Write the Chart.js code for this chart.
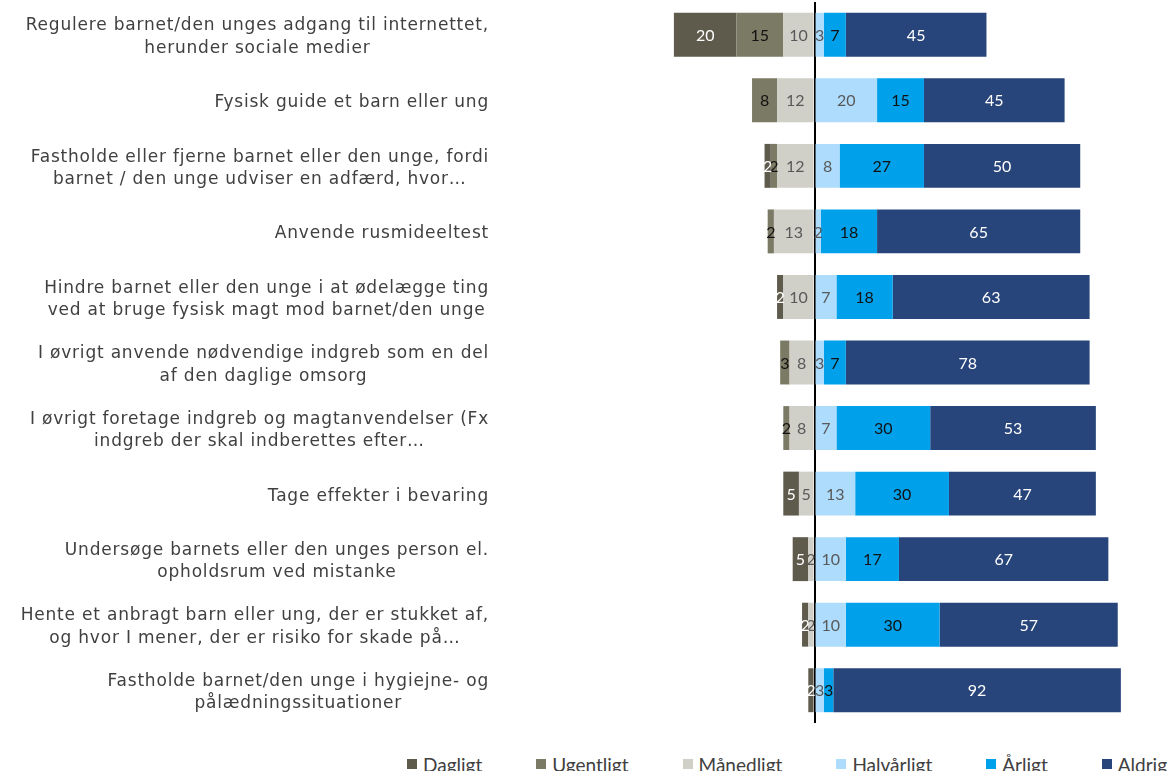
<!DOCTYPE html>
<html>
<head>
<meta charset="utf-8">
<script src="https://cdn.jsdelivr.net/npm/chart.js@4.4.1/dist/chart.umd.min.js"></script>
<style>
  html, body { margin: 0; padding: 0; background: #fff; overflow: hidden; }
  #wrap { position: relative; width: 1174px; height: 771px; overflow: hidden; }
  #legend {
    position: absolute; top: 752px; left: 407px; white-space: nowrap;
    font-family: Lato, "Open Sans", sans-serif; font-size: 19px; line-height: 19px; color: #404040;
  }
  #legend .item { display: inline-flex; align-items: center; margin-right: 54px; }
  #legend .box { width: 10px; height: 10px; margin-right: 6px; }
</style>
</head>
<body>
<div id="wrap">
  <canvas id="chart" width="1174" height="725"></canvas>
  <div id="legend"></div>
</div>
<script>
var categories = [
  ["Regulere barnet/den unges adgang til internettet,", "herunder sociale medier"],
  ["Fysisk guide et barn eller ung"],
  ["Fastholde eller fjerne barnet eller den unge, fordi", "barnet / den unge udviser en adfærd, hvor…"],
  ["Anvende rusmideeltest"],
  ["Hindre barnet eller den unge i at ødelægge ting", "ved at bruge fysisk magt mod barnet/den unge"],
  ["I øvrigt anvende nødvendige indgreb som en del", "af den daglige omsorg"],
  ["I øvrigt foretage indgreb og magtanvendelser (Fx", "indgreb der skal indberettes efter…"],
  ["Tage effekter i bevaring"],
  ["Undersøge barnets eller den unges person el.", "opholdsrum ved mistanke"],
  ["Hente et anbragt barn eller ung, der er stukket af,", "og hvor I mener, der er risiko for skade på…"],
  ["Fastholde barnet/den unge i hygiejne- og", "pålædningssituationer"]
];

// venstre side af nul-linjen
var dagligt = [20, 0, 2, 0, 2, 0, 0, 5, 5, 2, 2];
var ugentligt = [15, 8, 2, 2, 0, 3, 2, 0, 0, 0, 0];
var maanedligt = [10, 12, 12, 13, 10, 8, 8, 5, 2, 2, 0];
// hoejre side
var halvaarligt = [3, 20, 8, 2, 7, 3, 7, 13, 10, 10, 3];
var aarligt = [7, 15, 27, 18, 18, 7, 30, 30, 17, 30, 3];
var aldrig = [45, 45, 50, 65, 63, 78, 53, 47, 67, 57, 92];

var legendOrder = ["Dagligt", "Ugentligt", "Månedligt", "Halvårligt", "Årligt", "Aldrig"];
var seriesColors = {
  "Dagligt": "#5e5b4c",
  "Ugentligt": "#7b7a65",
  "Månedligt": "#d0cfc8",
  "Halvårligt": "#addcfd",
  "Årligt": "#00a0ea",
  "Aldrig": "#27457b"
};
var labelColors = {
  "Dagligt": "#ffffff",
  "Ugentligt": "#111111",
  "Månedligt": "#595959",
  "Halvårligt": "#595959",
  "Årligt": "#111111",
  "Aldrig": "#ffffff"
};

function negate(arr) {
  return arr.map(function(v) {
    return -v;
  });
}

function makeDataset(name, values) {
  return {
    label: name,
    data: values,
    backgroundColor: seriesColors[name],
    borderWidth: 0,
    barPercentage: 0.67,
    categoryPercentage: 1
  };
}

// stablings-raekkefoelge: naermest nul foerst
var datasets = [
  makeDataset("Månedligt", negate(maanedligt)),
  makeDataset("Ugentligt", negate(ugentligt)),
  makeDataset("Dagligt", negate(dagligt)),
  makeDataset("Halvårligt", halvaarligt),
  makeDataset("Årligt", aarligt),
  makeDataset("Aldrig", aldrig)
];

// tal midt i hver bar
var barValuePlugin = {
  id: "barValues",
  afterDatasetsDraw: function(chart) {
    var ctx = chart.ctx;
    ctx.save();
    ctx.font = "16px Lato, 'Open Sans', sans-serif";
    ctx.textAlign = "center";
    ctx.textBaseline = "middle";
    chart.data.datasets.forEach(function(ds, di) {
      var meta = chart.getDatasetMeta(di);
      ctx.fillStyle = labelColors[ds.label];
      meta.data.forEach(function(bar, i) {
        var val = ds.data[i];
        if (!val) {
          return;
        }
        var p = bar.getProps(["x", "y", "base"], true);
        ctx.fillText(Math.abs(val), (p.x + p.base) / 2, p.y + 1);
      });
    });
    ctx.restore();
  }
};

// kategori-tekster: linjerne centreret, blokken hoejrestillet
var categoryLabelPlugin = {
  id: "categoryLabels",
  afterDraw: function(chart) {
    var ctx = chart.ctx;
    var yScale = chart.scales.y;
    var right = 489;
    var lineHeight = 22.5;
    ctx.save();
    ctx.font = "17px 'DejaVu Sans', Verdana, sans-serif";
    if ("letterSpacing" in ctx) {
      ctx.letterSpacing = "0.8px";
    }
    ctx.fillStyle = "#404040";
    ctx.textAlign = "center";
    ctx.textBaseline = "middle";
    categories.forEach(function(lines, i) {
      var maxW = 0;
      lines.forEach(function(l) {
        maxW = Math.max(maxW, ctx.measureText(l).width);
      });
      var cy = yScale.getPixelForValue(i) + 2.5;
      var top = cy - ((lines.length - 1) * lineHeight) / 2;
      lines.forEach(function(l, k) {
        ctx.fillText(l, right - maxW / 2, top + k * lineHeight);
      });
    });
    ctx.restore();
  }
};

var chart = new Chart(document.getElementById("chart"), {
  type: "bar",
  data: {
    labels: categories,
    datasets: datasets
  },
  options: {
    indexAxis: "y",
    responsive: false,
    animation: false,
    layout: { padding: { top: 2, bottom: 2, left: 0, right: 0 } },
    scales: {
      x: {
        stacked: true,
        min: -100,
        max: 115,
        z: 1,
        ticks: { display: false, stepSize: 50 },
        border: { display: false },
        grid: {
          drawTicks: false,
          lineWidth: 2,
          color: function(c) {
            return c.tick && c.tick.value === 0 ? "#000000" : "rgba(0,0,0,0)";
          }
        }
      },
      y: {
        stacked: true,
        ticks: { display: false },
        grid: { display: false },
        border: { display: false },
        afterFit: function(scale) {
          scale.width = 502;
        }
      }
    },
    plugins: {
      legend: { display: false },
      tooltip: { enabled: false }
    }
  },
  plugins: [barValuePlugin, categoryLabelPlugin]
});

// legende som html under grafen
var legendEl = document.getElementById("legend");
legendOrder.forEach(function(name) {
  var item = document.createElement("span");
  item.className = "item";
  var box = document.createElement("span");
  box.className = "box";
  box.style.backgroundColor = seriesColors[name];
  item.appendChild(box);
  item.appendChild(document.createTextNode(name));
  legendEl.appendChild(item);
});
</script>
</body>
</html>
